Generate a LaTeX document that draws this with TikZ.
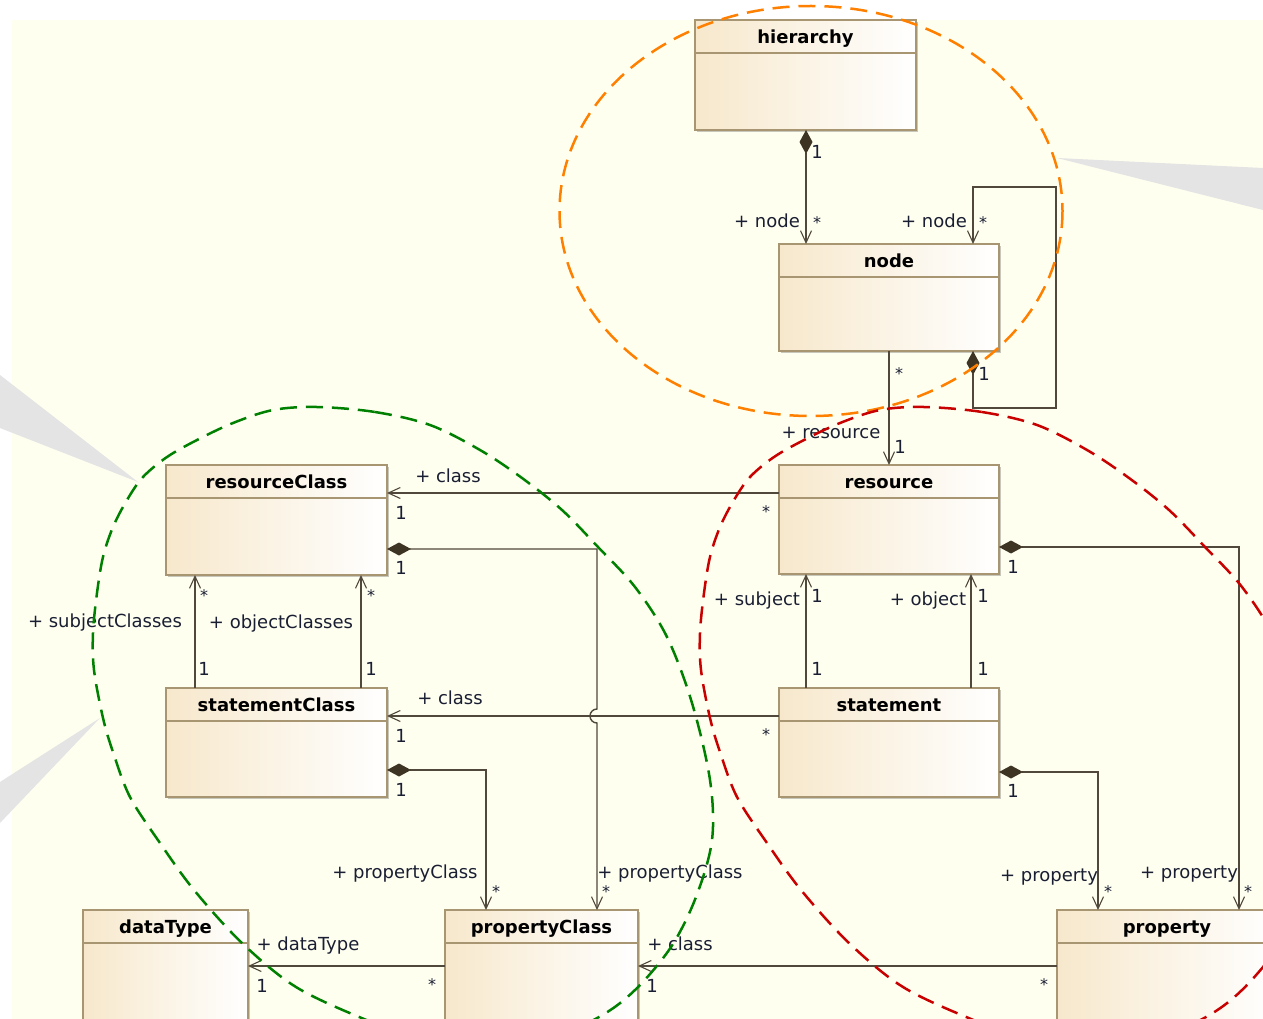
\documentclass[tikz,border=0pt]{standalone}
\usepackage{fontspec}
\setmainfont{DejaVu Sans}
\usetikzlibrary{arrows.meta,shadows}
\definecolor{bgyellow}{RGB}{255,255,240}
\definecolor{wedgegray}{RGB}{228,228,228}
\definecolor{boxedge}{RGB}{168,150,115}
\definecolor{boxfill}{RGB}{247,232,204}
\definecolor{conn}{RGB}{80,72,58}
\definecolor{diam}{RGB}{62,52,36}
\definecolor{lbltext}{RGB}{25,30,50}
\definecolor{orangeD}{RGB}{255,128,0}
\definecolor{greenD}{RGB}{0,128,0}
\definecolor{redD}{RGB}{200,0,0}
\newcommand\classhdr[1]{\draw[boxedge,line width=1.2pt] ([yshift=-33pt]#1.north west) -- ([yshift=-33pt]#1.north east);}
\begin{document}
\begin{tikzpicture}[x=1pt,y=-1pt,
  umlbox/.style={rectangle, draw=boxedge, line width=1.4pt, left color=boxfill, right color=white,
    anchor=north west, inner sep=0pt, outer sep=0pt,
    drop shadow={shadow xshift=2pt, shadow yshift=-2pt, opacity=0.22, fill=black}},
  titlelbl/.style={font=\fontsize{18}{20}\selectfont\bfseries, text=black, inner sep=0pt, anchor=base},
  lbl/.style={font=\fontsize{18}{20}\selectfont, text=lbltext, inner sep=0pt, anchor=base},
  starlbl/.style={font=\fontsize{16}{18}\selectfont, text=lbltext, inner sep=0pt, anchor=base},
  nav/.style={draw=conn, line width=1.4pt, -{Straight Barb[length=12pt,width=11pt,line width=1.1pt]}},
  comp/.style={draw=conn, line width=1.4pt,
    {Diamond[length=24pt,width=13pt,fill=diam,color=diam]}-{Straight Barb[length=12pt,width=11pt,line width=1.1pt]}},
  ovalline/.style={line width=2.5pt, dash pattern=on 17pt off 9pt}
]
\useasboundingbox (0,0) rectangle (1263,1019);
\fill[white] (0,0) rectangle (1263,1019);
\begin{scope}
\clip (0,0) rectangle (1263,1019);
\fill[bgyellow] (12,20) rectangle (1263,1019);
% callout wedges
\fill[wedgegray] (1057,158) -- (1263,168) -- (1263,210) -- cycle;
\fill[wedgegray] (138,482) -- (0,375) -- (0,428) -- cycle;
\fill[wedgegray] (100,718) -- (0,782) -- (0,823) -- cycle;

% classes
\node[umlbox, minimum width=221pt, minimum height=110pt] (hier) at (695,20) {};
\node[umlbox, minimum width=220pt, minimum height=107pt] (nd) at (779,244) {};
\node[umlbox, minimum width=220pt, minimum height=109pt] (res) at (779,465) {};
\node[umlbox, minimum width=220pt, minimum height=109pt] (stmt) at (779,688) {};
\node[umlbox, minimum width=221pt, minimum height=110pt] (rc) at (166,465) {};
\node[umlbox, minimum width=221pt, minimum height=109pt] (sc) at (166,688) {};
\node[umlbox, minimum width=165pt, minimum height=130pt] (dt) at (83,910) {};
\node[umlbox, minimum width=193pt, minimum height=130pt] (pc) at (445,910) {};
\node[umlbox, minimum width=220pt, minimum height=130pt] (prop) at (1057,910) {};
\classhdr{hier}\classhdr{nd}\classhdr{res}\classhdr{stmt}\classhdr{rc}\classhdr{sc}\classhdr{dt}\classhdr{pc}\classhdr{prop}
\node[titlelbl] (hierT) at ([yshift=-23.5pt]hier.north) {hierarchy};
\node[titlelbl] (ndT) at ([yshift=-23.5pt]nd.north) {node};
\node[titlelbl] (resT) at ([yshift=-23.5pt]res.north) {resource};
\node[titlelbl] (stmtT) at ([yshift=-23.5pt]stmt.north) {statement};
\node[titlelbl] (rcT) at ([yshift=-23.5pt]rc.north) {resourceClass};
\node[titlelbl] (scT) at ([yshift=-23.5pt]sc.north) {statementClass};
\node[titlelbl] (dtT) at ([yshift=-23.5pt]dt.north) {dataType};
\node[titlelbl] (pcT) at ([yshift=-23.5pt]pc.north) {propertyClass};
\node[titlelbl] (propT) at ([yshift=-23.5pt]prop.north) {property};

% connectors
\draw[comp] ([xshift=111pt]hier.south west) -- ([xshift=27pt]nd.north west);
\draw[comp] ([xshift=194pt]nd.south west) -- ++(0,57) -- ++(83,0) -- ++(0,-221) -- ++(-83,0) -- ([xshift=194pt]nd.north west);
\draw[nav] ([xshift=110pt]nd.south west) -- ([xshift=110pt]res.north west);
\draw[nav] ([yshift=-28pt]res.north west) -- ([yshift=-28pt]rc.north east);
\draw[comp] ([yshift=-84pt]rc.north east) -- ++(210,0) -- ++(0,160) arc[start angle=270,end angle=90,radius=7] -- ([xshift=152pt]pc.north west);
\draw[nav] ([yshift=-28pt]stmt.north west) -- ([yshift=-28pt]sc.north east);
\draw[comp] ([yshift=-82pt]sc.north east) -- ++(99,0) -- ([xshift=41pt]pc.north west);
\draw[nav] ([xshift=29pt]sc.north west) -- ([xshift=29pt]rc.south west);
\draw[nav] ([xshift=195pt]sc.north west) -- ([xshift=195pt]rc.south west);
\draw[nav] ([xshift=27pt]stmt.north west) -- ([xshift=27pt]res.south west);
\draw[nav] ([xshift=192pt]stmt.north west) -- ([xshift=192pt]res.south west);
\draw[comp] ([yshift=-82pt]res.north east) -- ++(240,0) -- ([xshift=182pt]prop.north west);
\draw[comp] ([yshift=-84pt]stmt.north east) -- ++(99,0) -- ([xshift=41pt]prop.north west);
\draw[nav] ([yshift=-56pt]prop.north west) -- ([yshift=-56pt]pc.north east);
\draw[nav] ([yshift=-56pt]pc.north west) -- ([yshift=-56pt]dt.north east);

% end labels
\node[lbl] (l1) at (817,159) {1};
\node[lbl] (l2) at (767,227) {+ node};
\node[starlbl] (l3) at (817,229) {*};
\node[lbl] (l4) at (934,227) {+ node};
\node[starlbl] (l5) at (983,229) {*};
\node[starlbl] (l6) at (899,379) {*};
\node[lbl] (l7) at (984,380) {1};
\node[lbl] (l8) at (831,438) {+ resource};
\node[lbl] (l9) at (900,453) {1};
\node[lbl] (l10) at (448,482) {+ class};
\node[lbl] (l11) at (401,519) {1};
\node[starlbl] (l12) at (766,517) {*};
\node[lbl] (l13) at (401,574) {1};
\node[lbl] (l14) at (105,627) {+ subjectClasses};
\node[starlbl] (l15) at (204,601) {*};
\node[lbl] (l16) at (204,675) {1};
\node[lbl] (l17) at (281,628) {+ objectClasses};
\node[starlbl] (l18) at (371,601) {*};
\node[lbl] (l19) at (371,675) {1};
\node[lbl] (l20) at (757,605) {+ subject};
\node[lbl] (l21) at (817,602) {1};
\node[lbl] (l22) at (817,675) {1};
\node[lbl] (l23) at (928,605) {+ object};
\node[lbl] (l24) at (983,602) {1};
\node[lbl] (l25) at (983,675) {1};
\node[lbl] (l26) at (1013,573) {1};
\node[lbl] (l27) at (450,704) {+ class};
\node[lbl] (l28) at (401,742) {1};
\node[starlbl] (l29) at (766,740) {*};
\node[lbl] (l30) at (401,796) {1};
\node[lbl] (l31) at (1013,797) {1};
\node[lbl] (l32) at (405,878) {+ propertyClass};
\node[starlbl] (l33) at (496,897) {*};
\node[lbl] (l34) at (670,878) {+ propertyClass};
\node[starlbl] (l35) at (606,897) {*};
\node[lbl] (l36) at (1049,881) {+ property};
\node[starlbl] (l37) at (1108,897) {*};
\node[lbl] (l38) at (1189,878) {+ property};
\node[starlbl] (l39) at (1248,897) {*};
\node[lbl] (l40) at (308,950) {+ dataType};
\node[lbl] (l41) at (262,992) {1};
\node[starlbl] (l42) at (432,990) {*};
\node[lbl] (l43) at (680,950) {+ class};
\node[lbl] (l44) at (652,992) {1};
\node[starlbl] (l45) at (1044,990) {*};

% dashed groupings
\draw[ovalline, orangeD] (811,211) ellipse [x radius=251.5, y radius=205];
\draw[ovalline, greenD] plot[smooth cycle, tension=0.55] coordinates {
 (317,407) (375,412) (430,425) (480,450) (522,478) (562,510) (598,547) (635,587)
 (667,637) (692,703) (710,780) (712,840) (696,897) (671,947) (635,990) (599,1017)
 (545,1040) (480,1048) (420,1039) (364,1019) (296,987) (242,943) (194,890) (160,843)
 (130,797) (113,752) (103,718) (94,670) (93,633) (97,593) (103,557) (113,527)
 (127,500) (143,477) (167,457) (197,440) (233,423) (273,410)};
\begin{scope}[xshift=607pt]
\draw[ovalline, redD] plot[smooth cycle, tension=0.55] coordinates {
 (317,407) (375,412) (430,425) (480,450) (522,478) (562,510) (598,547) (635,587)
 (667,637) (692,703) (710,780) (712,840) (696,897) (671,947) (635,990) (599,1017)
 (545,1040) (480,1048) (420,1039) (364,1019) (296,987) (242,943) (194,890) (160,843)
 (130,797) (113,752) (103,718) (94,670) (93,633) (97,593) (103,557) (113,527)
 (127,500) (143,477) (167,457) (197,440) (233,423) (273,410)};
\end{scope}
\end{scope}
\end{tikzpicture}
\end{document}
